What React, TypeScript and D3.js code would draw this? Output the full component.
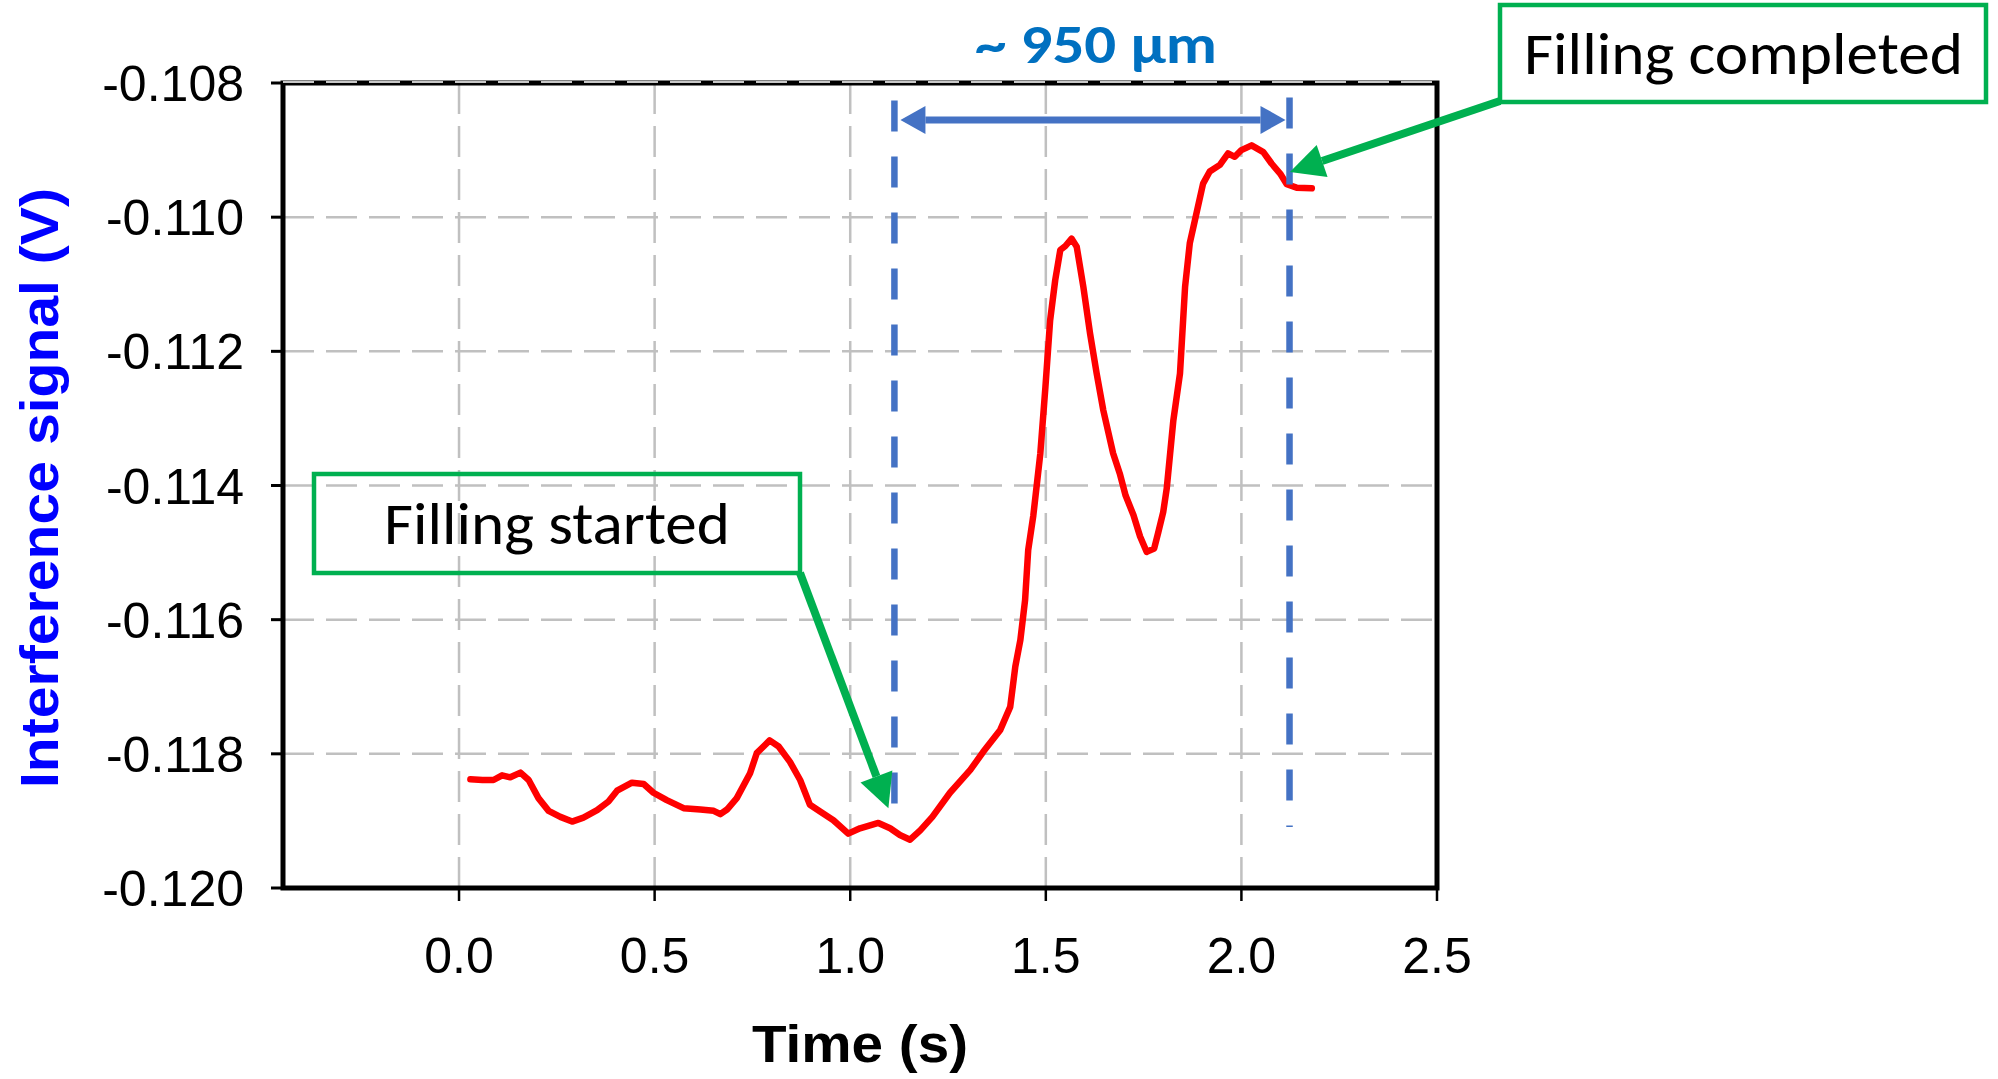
import React from "react";
import * as d3 from "d3";

const timeS = [0.029, 0.06, 0.088, 0.11, 0.131, 0.157, 0.178, 0.203, 0.229, 0.259, 0.289, 0.318, 0.353, 0.382, 0.404, 0.442, 0.472, 0.497, 0.531, 0.574, 0.617, 0.651, 0.668, 0.685, 0.71, 0.744, 0.761, 0.794, 0.817, 0.846, 0.872, 0.897, 0.923, 0.957, 0.995, 1.025, 1.072, 1.102, 1.127, 1.153, 1.179, 1.21, 1.255, 1.307, 1.34, 1.383, 1.409, 1.422, 1.435, 1.447, 1.455, 1.468, 1.486, 1.499, 1.511, 1.524, 1.537, 1.55, 1.566, 1.579, 1.596, 1.613, 1.63, 1.647, 1.672, 1.689, 1.704, 1.724, 1.741, 1.758, 1.777, 1.787, 1.8, 1.809, 1.826, 1.843, 1.856, 1.868, 1.881, 1.902, 1.919, 1.945, 1.966, 1.983, 2.0, 2.026, 2.056, 2.077, 2.099, 2.116, 2.141, 2.18];
const signalV = [-0.11838, -0.11839, -0.11839, -0.11832, -0.11835, -0.11828, -0.11839, -0.11866, -0.11885, -0.11894, -0.11901, -0.11895, -0.11884, -0.11871, -0.11855, -0.11843, -0.11845, -0.11858, -0.11869, -0.11881, -0.11883, -0.11885, -0.1189, -0.11883, -0.11866, -0.11829, -0.11799, -0.1178, -0.11789, -0.11812, -0.11839, -0.11876, -0.11886, -0.11899, -0.11919, -0.11911, -0.11903, -0.11911, -0.11921, -0.11928, -0.11914, -0.11894, -0.11858, -0.11824, -0.11797, -0.11765, -0.1173, -0.1167, -0.1163, -0.11571, -0.11496, -0.11445, -0.11352, -0.11253, -0.11154, -0.11094, -0.11049, -0.11043, -0.11032, -0.11044, -0.11104, -0.11173, -0.11233, -0.11288, -0.11352, -0.11382, -0.11415, -0.11444, -0.11476, -0.11499, -0.11494, -0.11471, -0.11440, -0.11405, -0.11303, -0.11233, -0.11104, -0.11039, -0.11005, -0.1095, -0.10932, -0.10922, -0.10905, -0.1091, -0.109, -0.10893, -0.10903, -0.1092, -0.10935, -0.10951, -0.10956, -0.10957];

const xTicks = [0.0, 0.5, 1.0, 1.5, 2.0, 2.5];
const yTicks = [-0.12, -0.118, -0.116, -0.114, -0.112, -0.11, -0.108];

// annotation values (data units)
const markerTimes = [1.113, 2.123];
const markerTopV = -0.10826;
const markerBottomV = [-0.11875, -0.11909];
const spanArrowV = -0.10855;
const startedTip = [1.0976, -0.118812];
const completedTip = [2.124, -0.109325];

const W = 1998, H = 1079;
const L = 283, R = 1437, T = 83, B = 888;

const x = d3.scaleLinear().domain([-0.45, 2.5]).range([L, R]);
const y = d3.scaleLinear().domain([-0.12, -0.108]).range([B, T]);

const FONT = "'Liberation Sans', Arial, sans-serif";
const CAL = "Carlito, Calibri, Lato, 'Open Sans', sans-serif";
const GREEN = "#00B050";
const BLUE = "#4472C4";

function arrowHead(x1: number, y1: number, x2: number, y2: number, len: number, half: number) {
  const dx = x2 - x1, dy = y2 - y1;
  const d = Math.hypot(dx, dy);
  const ux = dx / d, uy = dy / d;
  const bx = x2 - ux * len, by = y2 - uy * len;
  const px = -uy, py = ux;
  return {
    base: [bx, by],
    pts: `${x2},${y2} ${bx + px * half},${by + py * half} ${bx - px * half},${by - py * half}`,
  };
}

export default function App() {
  const pts = timeS.map((t, i) => [t, signalV[i]] as [number, number]);
  const line = d3.line<[number, number]>().x((d) => x(d[0])).y((d) => y(d[1]));

  const ax1 = x(markerTimes[0]), ax2 = x(markerTimes[1]), ay = y(spanArrowV);
  const hL = arrowHead(ax2, ay, ax1 + 6, ay, 25, 14);
  const hR = arrowHead(ax1, ay, ax2 - 4, ay, 25, 14);

  const sFrom = [800, 573];
  const sTip = [x(startedTip[0]), y(startedTip[1])];
  const sHead = arrowHead(sFrom[0], sFrom[1], sTip[0], sTip[1], 34, 17);
  const cFrom = [1500, 101];
  const cTip = [x(completedTip[0]), y(completedTip[1])];
  const cHead = arrowHead(cFrom[0], cFrom[1], cTip[0], cTip[1], 34, 17);

  const grid = { stroke: "#c0c0c0", strokeWidth: 2.5, strokeDasharray: "31 12" };

  return (
    <svg width={W} height={H} style={{ position: "absolute", left: 0, top: 0, background: "#fff" }}>
      <rect width={W} height={H} fill="#fff" />
      {/* grid */}
      {yTicks.slice(1, -1).map((v) => (
        <line key={"gy" + v} x1={L} x2={R} y1={y(v)} y2={y(v)} {...grid} />
      ))}
      {xTicks.slice(0, -1).map((t) => (
        <line key={"gx" + t} x1={x(t)} x2={x(t)} y1={T} y2={B} {...grid} />
      ))}
      {/* frame */}
      <rect x={L} y={T} width={R - L} height={B - T} fill="none" stroke="#000" strokeWidth={5} />
      <line x1={L} x2={R} y1={y(-0.108) - 1} y2={y(-0.108) - 1} stroke="#c8c8c8" strokeWidth={2} strokeDasharray="31 12" />
      {/* ticks */}
      {yTicks.map((v) => (
        <g key={"ty" + v}>
          <line x1={L - 12} x2={L} y1={y(v)} y2={y(v)} stroke="#000" strokeWidth={3} />
          <text x={244} y={y(v)} dy="0.36em" textAnchor="end" fontFamily={FONT} fontSize={50} fill="#000">
            {v.toFixed(3)}
          </text>
        </g>
      ))}
      {xTicks.map((t) => (
        <g key={"tx" + t}>
          <line x1={x(t)} x2={x(t)} y1={B} y2={B + 13} stroke="#000" strokeWidth={2.5} />
          <text x={x(t)} y={973} textAnchor="middle" fontFamily={FONT} fontSize={50} fill="#000">
            {t.toFixed(1)}
          </text>
        </g>
      ))}
      {/* axis titles */}
      <text x={860} y={1062} textAnchor="middle" fontFamily={FONT} fontWeight="bold" fontSize={51}
        textLength={216} lengthAdjust="spacingAndGlyphs" fill="#000">Time (s)</text>
      <text transform="translate(58,488) rotate(-90)" textAnchor="middle" fontFamily={FONT} fontWeight="bold"
        fontSize={54} textLength={600} lengthAdjust="spacingAndGlyphs" fill="#0000ff">Interference signal (V)</text>
      {/* data */}
      <path d={line(pts) || ""} fill="none" stroke="#ff0000" strokeWidth={6.5} strokeLinejoin="round" strokeLinecap="round" />
      {/* blue markers */}
      {markerTimes.map((t, i) => (
        <line key={"m" + i} x1={x(t)} x2={x(t)} y1={y(markerTopV) - (i ? 3 : 0)} y2={y(markerBottomV[i])}
          stroke={BLUE} strokeWidth={6.5} strokeDasharray="31 25" />
      ))}
      <line x1={hL.base[0]} x2={hR.base[0]} y1={ay} y2={ay} stroke={BLUE} strokeWidth={7} />
      <polygon points={hL.pts} fill={BLUE} />
      <polygon points={hR.pts} fill={BLUE} />
      <text x={975} y={63} fontFamily={CAL} fontWeight="bold" fontSize={55} textLength={242}
        lengthAdjust="spacingAndGlyphs" fill="#0070C0">~ 950 µm</text>
      {/* Filling started */}
      <rect x={314} y={474} width={486} height={99} fill="none" stroke={GREEN} strokeWidth={4.5} />
      <text x={384} y={544} fontFamily={CAL} fontSize={59} textLength={346} lengthAdjust="spacingAndGlyphs" fill="#000">Filling started</text>
      <line x1={sFrom[0]} y1={sFrom[1]} x2={sHead.base[0]} y2={sHead.base[1]} stroke={GREEN} strokeWidth={8} />
      <polygon points={sHead.pts} fill={GREEN} />
      {/* Filling completed */}
      <rect x={1500} y={5} width={486} height={97} fill="none" stroke={GREEN} strokeWidth={4.5} />
      <text x={1524} y={74} fontFamily={CAL} fontSize={59} textLength={439} lengthAdjust="spacingAndGlyphs" fill="#000">Filling completed</text>
      <line x1={cFrom[0]} y1={cFrom[1]} x2={cHead.base[0]} y2={cHead.base[1]} stroke={GREEN} strokeWidth={8} />
      <polygon points={cHead.pts} fill={GREEN} />
    </svg>
  );
}
